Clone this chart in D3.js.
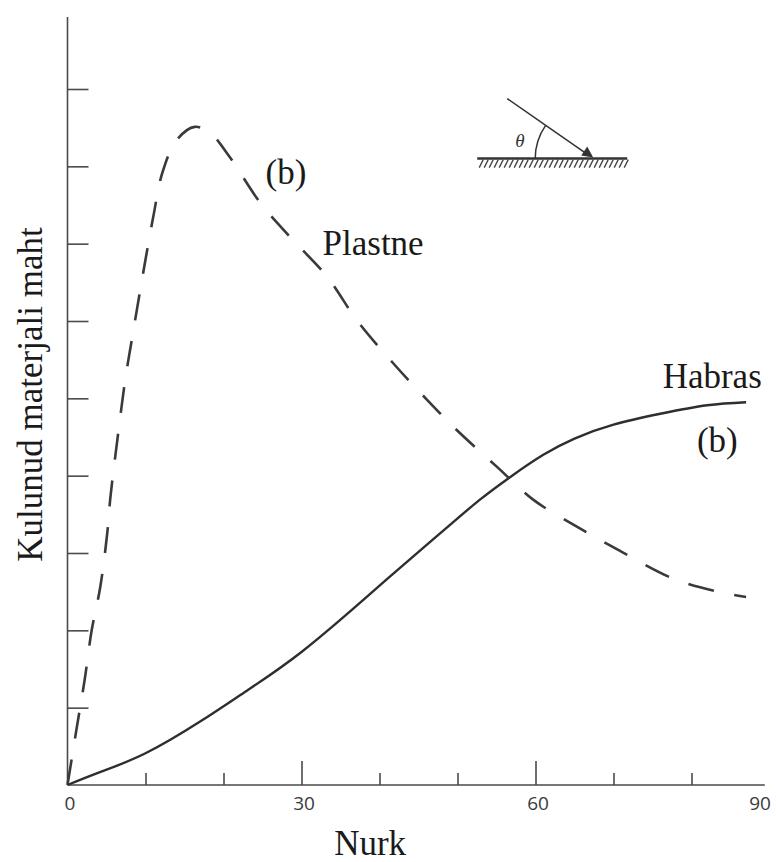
<!DOCTYPE html>
<html>
<head>
<meta charset="utf-8">
<script src="https://cdn.jsdelivr.net/npm/d3@7"></script>
<style>
  html, body { margin: 0; padding: 0; background: #fff; }
  svg { display: block; }
  .lbl { font-family: "Liberation Serif", "Times New Roman", serif; fill: #1a1a1a; }
  .tick text { font-family: "Open Sans", "DejaVu Sans", sans-serif; fill: #3a3a3a; }
</style>
</head>
<body>
<svg id="chart" width="776" height="862"></svg>
<script>
// Angle of impact (degrees) vs. worn material volume
const plastneAngle = [0, 1.2, 2.2, 3.1, 4.2, 5.1, 5.5, 6.5, 7.4, 8.4, 9.7, 11.0, 12.2, 14.0, 16.3, 18.3, 20.8, 24.7, 28.5, 33.3, 37.1, 41.7, 46.1, 49.9, 55.1, 59.7, 65.3, 69.9, 78.1, 85.3, 87.0];
const plastneValue = [0, 0.75, 1.36, 2.0, 2.56, 3.26, 3.72, 4.55, 5.24, 5.85, 6.62, 7.35, 7.93, 8.34, 8.51, 8.43, 8.12, 7.53, 7.09, 6.57, 6.01, 5.46, 4.98, 4.59, 4.11, 3.69, 3.34, 3.08, 2.65, 2.46, 2.43];

const habrasAngle = [0, 4, 10, 17, 23, 30, 38, 43, 49, 53, 57, 61, 65, 70, 76, 82, 87];
const habrasValue = [0, 0.16, 0.41, 0.82, 1.22, 1.72, 2.4, 2.84, 3.36, 3.7, 4.0, 4.27, 4.48, 4.66, 4.8, 4.91, 4.95];

const xTickLabels = [0, 30, 60, 90];
const xMinorTicks = [10, 20, 40, 50, 70, 80];
const xMajorTicks = [30, 60];
const yTicks = [1, 2, 3, 4, 5, 6, 7, 8, 9];

const xTitle = "Nurk";
const yTitle = "Kulunud materjali maht";
const curveLabels = ["(b)", "Plastne", "Habras", "(b)"];

const svg = d3.select("#chart");
const x = d3.scaleLinear().domain([0, 90]).range([67.5, 769.5]);
const y = d3.scaleLinear().domain([0, 9]).range([785, 89]);

const axisColor = "#4a4a4a";

// axis lines
svg.append("line")
  .attr("x1", x(0)).attr("x2", x(0))
  .attr("y1", y(0)).attr("y2", y(9.93))
  .attr("stroke", axisColor).attr("stroke-width", 1.6);
svg.append("line")
  .attr("x1", x(0)).attr("x2", x(89.4))
  .attr("y1", y(0)).attr("y2", y(0))
  .attr("stroke", axisColor).attr("stroke-width", 1.6);

// y ticks pointing inward
const yAxis = svg.append("g")
  .attr("transform", `translate(${x(0)},0)`)
  .call(d3.axisLeft(y).tickValues(yTicks).tickSize(-21).tickFormat(""));
yAxis.select(".domain").remove();
yAxis.selectAll(".tick line").attr("stroke", axisColor).attr("stroke-width", 1.6);

// x ticks: minor and major, pointing up
const xMinor = svg.append("g")
  .attr("transform", `translate(0,${y(0)})`)
  .call(d3.axisBottom(x).tickValues(xMinorTicks).tickSize(-12).tickFormat(""));
xMinor.select(".domain").remove();
xMinor.selectAll(".tick line").attr("stroke", axisColor).attr("stroke-width", 1.6);

const xMajor = svg.append("g")
  .attr("transform", `translate(0,${y(0)})`)
  .call(d3.axisBottom(x).tickValues(xMajorTicks).tickSize(-24).tickFormat(""));
xMajor.select(".domain").remove();
xMajor.selectAll(".tick line").attr("stroke", axisColor).attr("stroke-width", 1.6);

// x tick labels
const xLab = svg.append("g")
  .attr("transform", `translate(0,${y(0)})`)
  .call(d3.axisBottom(x).tickValues(xTickLabels).tickSize(0).tickPadding(12).tickFormat(d3.format("d")));
xLab.select(".domain").remove();
xLab.selectAll(".tick text")
  .attr("font-size", 19)
  .attr("dx", d => d === 90 ? -10 : 2);

// curves
const brittleLine = d3.line()
  .x(d => x(d[0]))
  .y(d => y(d[1]))
  .curve(d3.curveNatural);

const ductileLine = d3.line()
  .x(d => x(d[0]))
  .y(d => y(d[1]))
  .curve(d3.curveCatmullRom.alpha(0.5));

svg.append("path")
  .datum(d3.zip(habrasAngle, habrasValue))
  .attr("d", brittleLine)
  .attr("fill", "none")
  .attr("stroke", "#2e2e2e")
  .attr("stroke-width", 2.4);

svg.append("path")
  .datum(d3.zip(plastneAngle, plastneValue))
  .attr("d", ductileLine)
  .attr("fill", "none")
  .attr("stroke", "#3a3a3a")
  .attr("stroke-width", 2.6)
  .attr("stroke-dasharray", "26,21");

// curve labels
svg.append("text").attr("class", "lbl").attr("font-size", 35)
  .attr("x", x(25.4)).attr("y", y(7.77)).text(curveLabels[0]);
svg.append("text").attr("class", "lbl").attr("font-size", 35)
  .attr("x", x(32.7)).attr("y", y(6.85)).text(curveLabels[1]);
svg.append("text").attr("class", "lbl").attr("font-size", 35)
  .attr("x", x(76.3)).attr("y", y(5.13)).text(curveLabels[2]);
svg.append("text").attr("class", "lbl").attr("font-size", 35)
  .attr("x", x(80.7)).attr("y", y(4.3)).text(curveLabels[3]);

// axis titles
svg.append("text").attr("class", "lbl").attr("font-size", 35)
  .attr("text-anchor", "middle")
  .attr("x", x(38.8)).attr("y", y(-0.91)).text(xTitle);
svg.append("text").attr("class", "lbl").attr("font-size", 35)
  .attr("text-anchor", "middle")
  .attr("transform", `translate(42,${y(5.05)}) rotate(-90)`)
  .text(yTitle);

// impact-angle sketch: particle striking a surface at angle theta
const vx = x(67.4), vy = y(8.1);
const g = svg.append("g").attr("transform", `translate(${vx},${vy})`);
g.append("line").attr("x1", -116).attr("x2", 34).attr("y1", 0).attr("y2", 0)
  .attr("stroke", "#333").attr("stroke-width", 2.5);
const hatch = d3.range(-114, 34, 5);
g.selectAll("line.h").data(hatch).enter().append("line").attr("class", "h")
  .attr("x1", d => d + 4).attr("y1", 1)
  .attr("x2", d => d).attr("y2", 9)
  .attr("stroke", "#444").attr("stroke-width", 1.3);
g.append("line").attr("x1", -86).attr("y1", -60).attr("x2", -4).attr("y2", -3)
  .attr("stroke", "#333").attr("stroke-width", 1.6);
g.append("path").attr("d", "M0,-1 L-12,-3 L-6,-12 Z").attr("fill", "#333");
const ang = Math.atan2(-60, -86);
const p = d3.path();
p.moveTo(-58, 0);
p.arc(0, 0, 58, Math.PI, 2 * Math.PI + ang, false);
g.append("path").attr("d", p.toString()).attr("fill", "none")
  .attr("stroke", "#333").attr("stroke-width", 1.5);
g.append("text").attr("x", -78).attr("y", -12)
  .attr("font-family", "Liberation Serif, serif").attr("font-style", "italic")
  .attr("font-size", 19).attr("fill", "#333").text("θ");
</script>
</body>
</html>
